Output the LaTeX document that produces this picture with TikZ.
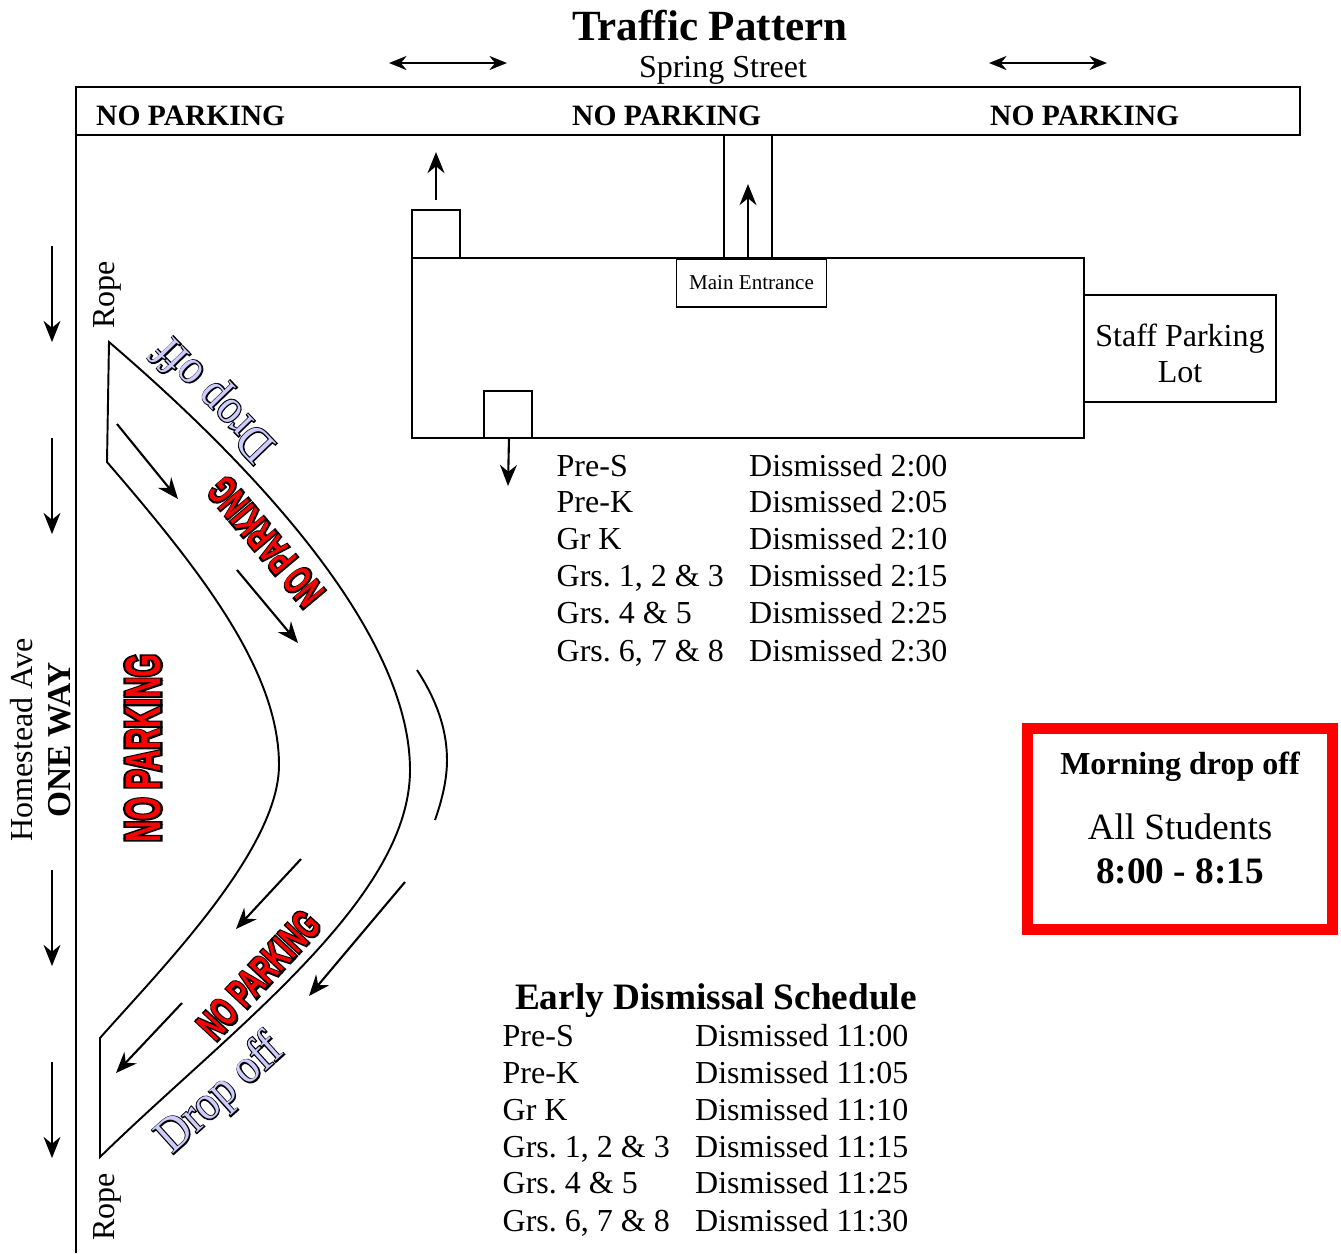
\documentclass[tikz,border=0pt]{standalone}
\usepackage{fontspec}
\setmainfont{Liberation Serif}
\newfontfamily\parkfill{Liberation Sans}
\newfontfamily\parkedge[BoldFeatures={FakeBold=10}]{Liberation Sans}
\newfontfamily\dropedge[FakeBold=5]{Liberation Serif}
\usetikzlibrary{arrows.meta}
\definecolor{droplilac}{HTML}{CCCCFF}
\tikzset{
    arrow/.style={-{Stealth[length=6pt,width=4.8pt]},line width=0.6pt},
    twoway/.style={{Stealth[length=5pt,width=4pt]}-{Stealth[length=5pt,width=4pt]},line width=0.6pt},
    road/.style={line width=0.55pt},
    sched/.style={font=\fontsize{9.1}{11}\selectfont\frenchspacing,anchor=base west,inner sep=0pt},
    label/.style={font=\fontsize{9.1}{11}\selectfont,inner sep=0pt},
    noparktext/.style={font=\fontsize{8.4}{10}\selectfont\bfseries,anchor=base west,inner sep=0pt}
}
% sign painted twice: black edge, then red letters on top
\newcommand{\noparksign}[6]{
    \node[text=black,rotate=#3,xscale=#4,yscale=#5] (#1edge) at (#2) {\fontsize{#6}{#6}\selectfont\parkedge\bfseries NO PARKING};
    \node[text=red,rotate=#3,xscale=#4,yscale=#5] (#1) at (#2) {\fontsize{#6}{#6}\selectfont\parkfill\bfseries NO PARKING};
}
\newcommand{\dropsign}[3]{
    \node[text=black,rotate=#3,yscale=1.1] (#1edge) at (#2) {\fontsize{12.5}{14}\selectfont\dropedge Drop off};
    \node[text=droplilac,rotate=#3,yscale=1.1] (#1) at (#2) {\fontsize{12.5}{14}\selectfont Drop off};
}
\begin{document}
\begin{tikzpicture}[x=0.01cm,y=-0.01cm]
\useasboundingbox (0,0) rectangle (1341,1253);

    % street
    \node[font=\fontsize{12.25}{14}\selectfont\bfseries,inner sep=0pt] (title) at (710,26) {Traffic Pattern};
    \node[label] (spring) at (723,70) {Spring Street};
    \draw[twoway] (389,63) -- (507,63);
    \draw[twoway] (989,63) -- (1107,63);
    \draw[road] (76,1253) -- (76,87) -- (1300,87) -- (1300,135) -- (76,135);
    \node[noparktext] (park1) at (95.5,125) {NO PARKING};
    \node[noparktext] (park2) at (571.5,125) {NO PARKING};
    \node[noparktext] (park3) at (989.5,125) {NO PARKING};

    % school building
    \draw[road] (412,258) rectangle (1084,438);
    \draw[road] (412,210) rectangle (460,258);
    \draw[road] (484,391) rectangle (532,438);
    \draw[road] (724,135) -- (724,258);
    \draw[road] (772,135) -- (772,258);
    \draw[road] (1084,295) -- (1276,295) -- (1276,402) -- (1084,402);
    \node[draw,line width=0.55pt,minimum width=150*0.01cm,minimum height=48*0.01cm,inner sep=0pt,font=\fontsize{6}{7}\selectfont,anchor=north west] (main) at (675.5,258) {Main Entrance};
    \node[label] (staff) at (1180,339) {Staff Parking};
    \node[label] (lot) at (1180,372) {Lot};
    \draw[arrow] (436,200) -- (436,152);
    \draw[arrow] (748,258) -- (748,184);
    \draw[arrow] (509,438) -- (508,486);

    % homestead ave
    \foreach \ytop in {246,438,870,1062}{
        \draw[arrow] (52,\ytop) -- (52,\ytop+96);
    }
    \node[label,rotate=90] (ave) at (22,740) {Homestead Ave};
    \node[label,rotate=90,font=\fontsize{9.5}{10}\selectfont\bfseries] (oneway) at (60,740) {ONE WAY};
    \node[label,rotate=90] (rope1) at (107,295) {Rope};
    \node[label,rotate=90] (rope2) at (107,1207) {Rope};

    % drop off lane
    \draw[road] (109,342) .. controls (270,480) and (410,640) .. (410,770)
        .. controls (410,900) and (230,1030) .. (100,1157) -- (100,1038)
        .. controls (160,970) and (279,850) .. (279,765)
        .. controls (279,670) and (200,570) .. (107,462) -- cycle;
    \draw[road] (417,670) .. controls (440,705) and (447,735) .. (447,760) .. controls (447,780) and (442,800) .. (435,820);
    \draw[arrow] (117,424) -- (178,499);
    \draw[arrow] (237,570) -- (298,643);
    \draw[arrow] (301,859) -- (236,929);
    \draw[arrow] (405,882) -- (309,996);
    \draw[arrow] (182,1003) -- (116,1073);
    \noparksign{signa}{143,748}{90}{0.55}{0.92}{15.4}
    \noparksign{signb}{266,542}{130}{0.45}{0.75}{15.4}
    \noparksign{signc}{259,975}{47}{0.46}{0.75}{15.4}
    \dropsign{dropa}{216,398}{134}
    \dropsign{dropb}{221,1095}{42}

    % dismissal times
    \foreach \grade/\ytext/\tname in {Pre-S/476/2:00,Pre-K/512/2:05,Gr K/549/2:10,{Grs. 1, 2 \& 3}/586/2:15,Grs. 4 \& 5/623/2:25,{Grs. 6, 7 \& 8}/661/2:30}{
        \node[sched] (late\ytext) at (556,\ytext) {\grade};
        \node[sched] (latetime\ytext) at (748.5,\ytext) {Dismissed \tname};
    }
    \node[font=\fontsize{10.6}{12}\selectfont\bfseries,inner sep=0pt] (early) at (716,1001) {Early Dismissal Schedule};
    \foreach \grade/\ytext/\tname in {Pre-S/1046/11:00,Pre-K/1083/11:05,Gr K/1120/11:10,{Grs. 1, 2 \& 3}/1157/11:15,Grs. 4 \& 5/1193/11:25,{Grs. 6, 7 \& 8}/1231/11:30}{
        \node[sched] (soon\ytext) at (502,\ytext) {\grade};
        \node[sched] (soontime\ytext) at (694.5,\ytext) {Dismissed \tname};
    }

    % morning box
    \draw[red,line width=3.1pt] (1027.5,728.5) rectangle (1332.5,929.5);
    \node[label,font=\fontsize{9.1}{11}\selectfont\bfseries] (morning) at (1180,767) {Morning drop off};
    \node[label,font=\fontsize{10.55}{12}\selectfont] (students) at (1180,827) {All Students};
    \node[label,font=\fontsize{10.6}{13}\selectfont\bfseries] (hours) at (1180,871) {8:00 - 8:15};

\end{tikzpicture}
\end{document}
